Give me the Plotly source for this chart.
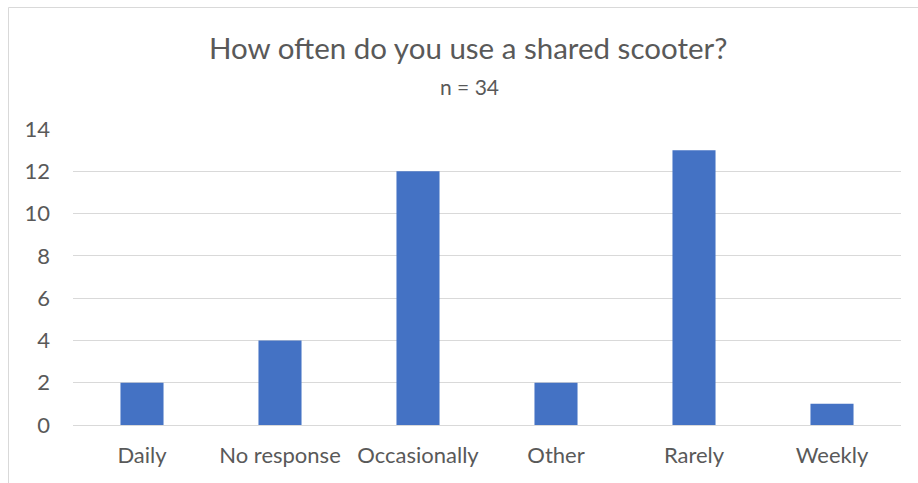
import plotly.graph_objects as go

categories = ["Daily", "No response", "Occasionally", "Other", "Rarely", "Weekly"]
counts = [2, 4, 12, 2, 13, 1]
y_ticks = [0, 2, 4, 6, 8, 10, 12, 14]

W, H = 918, 483
L, R, T, B = 73, 17, 129, 58
pw, ph = W - L - R, H - T - B

FONT = "Lato"
GREY = "#595959"

fig = go.Figure(go.Bar(x=categories, y=counts, marker=dict(color="#4472C4", line=dict(width=0)),
                       hoverinfo="x+y"))

fig.update_layout(
    width=W, height=H,
    margin=dict(l=L, r=R, t=T, b=B),
    paper_bgcolor="white", plot_bgcolor="white",
    bargap=0.688,
    showlegend=False,
    font=dict(family=FONT, color=GREY),
    xaxis=dict(showgrid=False, showline=False, zeroline=False, ticks="",
               tickfont=dict(size=22, color=GREY), ticklabelstandoff=15),
    yaxis=dict(range=[0, 14], tickvals=y_ticks, showgrid=True, gridcolor="#d9d9d9", gridwidth=1,
               zeroline=True, zerolinecolor="#d9d9d9", zerolinewidth=1, showline=False, ticks="",
               tickfont=dict(size=22, color=GREY), ticklabelstandoff=22),
)

def px_y(y):
    return (H - B - y) / ph

def px_x(x):
    return (x - L) / pw

fig.add_annotation(text="How often do you use a shared scooter?", xref="paper", yref="paper",
                   x=px_x(468), y=px_y(48), xanchor="center", yanchor="middle", showarrow=False,
                   font=dict(size=29.5, color=GREY, family=FONT))
fig.add_annotation(text="n = 34", xref="paper", yref="paper",
                   x=px_x(469), y=px_y(86), xanchor="center", yanchor="middle", showarrow=False,
                   font=dict(size=21, color=GREY, family=FONT))

fig.add_shape(type="rect", xref="paper", yref="paper",
              x0=px_x(8.5), y0=-0.5, x1=1.2, y1=px_y(7.5),
              line=dict(color="#d9d9d9", width=1), fillcolor="rgba(0,0,0,0)", layer="below")

fig.write_html("out.html")
